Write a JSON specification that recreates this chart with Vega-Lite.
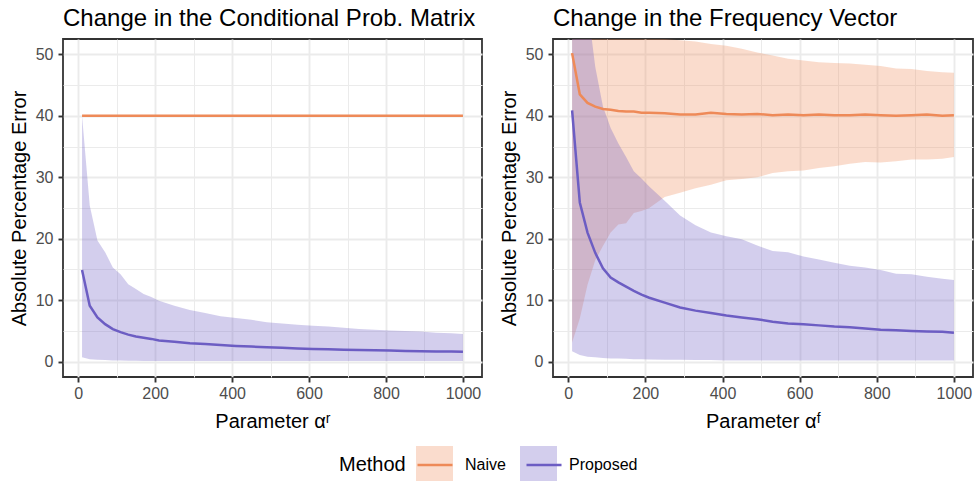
{
  "$schema": "https://vega.github.io/schema/vega-lite/v6.json",
  "padding": {"left": 8, "top": 6, "right": 1, "bottom": 0},
  "spacing": 15,
  "config": {
    "font": "Liberation Sans",
    "view": {"stroke": "#333333", "strokeWidth": 1.8},
    "axis": {"labelFlush": false, "labelOverlap": false}
  },
  "datasets": {
    "cond": [
      {"x": 10, "Method": "Naive", "mean": 40, "lo": 40, "hi": 40},
      {"x": 250, "Method": "Naive", "mean": 40, "lo": 40, "hi": 40},
      {"x": 500, "Method": "Naive", "mean": 40, "lo": 40, "hi": 40},
      {"x": 750, "Method": "Naive", "mean": 40, "lo": 40, "hi": 40},
      {"x": 1000, "Method": "Naive", "mean": 40, "lo": 40, "hi": 40},
      {"x": 10, "Method": "Proposed", "mean": 14.9, "lo": 0.7, "hi": 40},
      {"x": 30, "Method": "Proposed", "mean": 9.1, "lo": 0.4, "hi": 25.4},
      {"x": 50, "Method": "Proposed", "mean": 7.2, "lo": 0.3, "hi": 19.7},
      {"x": 70, "Method": "Proposed", "mean": 6.1, "lo": 0.25, "hi": 17.8},
      {"x": 90, "Method": "Proposed", "mean": 5.3, "lo": 0.2, "hi": 15.3},
      {"x": 110, "Method": "Proposed", "mean": 4.8, "lo": 0.2, "hi": 14.2},
      {"x": 130, "Method": "Proposed", "mean": 4.4, "lo": 0.15, "hi": 12.6},
      {"x": 150, "Method": "Proposed", "mean": 4.1, "lo": 0.15, "hi": 11.8},
      {"x": 170, "Method": "Proposed", "mean": 3.9, "lo": 0.1, "hi": 11.0},
      {"x": 190, "Method": "Proposed", "mean": 3.7, "lo": 0.1, "hi": 10.5},
      {"x": 210, "Method": "Proposed", "mean": 3.45, "lo": 0.1, "hi": 9.9},
      {"x": 250, "Method": "Proposed", "mean": 3.25, "lo": 0.1, "hi": 9.1},
      {"x": 290, "Method": "Proposed", "mean": 3.0, "lo": 0.1, "hi": 8.4},
      {"x": 330, "Method": "Proposed", "mean": 2.85, "lo": 0.1, "hi": 7.9},
      {"x": 370, "Method": "Proposed", "mean": 2.7, "lo": 0.1, "hi": 7.4},
      {"x": 410, "Method": "Proposed", "mean": 2.55, "lo": 0.1, "hi": 7.1},
      {"x": 450, "Method": "Proposed", "mean": 2.45, "lo": 0.1, "hi": 6.8},
      {"x": 490, "Method": "Proposed", "mean": 2.35, "lo": 0.1, "hi": 6.4},
      {"x": 530, "Method": "Proposed", "mean": 2.25, "lo": 0.1, "hi": 6.2},
      {"x": 570, "Method": "Proposed", "mean": 2.15, "lo": 0.1, "hi": 6.0},
      {"x": 610, "Method": "Proposed", "mean": 2.05, "lo": 0.1, "hi": 5.85},
      {"x": 650, "Method": "Proposed", "mean": 2.0, "lo": 0.1, "hi": 5.7},
      {"x": 690, "Method": "Proposed", "mean": 1.95, "lo": 0.1, "hi": 5.5},
      {"x": 730, "Method": "Proposed", "mean": 1.9, "lo": 0.1, "hi": 5.3},
      {"x": 770, "Method": "Proposed", "mean": 1.85, "lo": 0.1, "hi": 5.2},
      {"x": 810, "Method": "Proposed", "mean": 1.8, "lo": 0.1, "hi": 5.05},
      {"x": 850, "Method": "Proposed", "mean": 1.75, "lo": 0.1, "hi": 5.0},
      {"x": 890, "Method": "Proposed", "mean": 1.7, "lo": 0.1, "hi": 4.9},
      {"x": 930, "Method": "Proposed", "mean": 1.65, "lo": 0.1, "hi": 4.7},
      {"x": 970, "Method": "Proposed", "mean": 1.65, "lo": 0.1, "hi": 4.6},
      {"x": 1000, "Method": "Proposed", "mean": 1.6, "lo": 0.1, "hi": 4.5}
    ],
    "freq": [
      {"x": 10, "Method": "Naive", "mean": 50.2, "lo": 3.1, "hi": 90},
      {"x": 30, "Method": "Naive", "mean": 43.5, "lo": 7.0, "hi": 72},
      {"x": 50, "Method": "Naive", "mean": 42.1, "lo": 12.5, "hi": 65},
      {"x": 70, "Method": "Naive", "mean": 41.5, "lo": 16.5, "hi": 61},
      {"x": 90, "Method": "Naive", "mean": 41.1, "lo": 18.8, "hi": 59},
      {"x": 110, "Method": "Naive", "mean": 41.0, "lo": 21.0, "hi": 57.5},
      {"x": 130, "Method": "Naive", "mean": 40.8, "lo": 22.3, "hi": 56.5},
      {"x": 150, "Method": "Naive", "mean": 40.7, "lo": 22.5, "hi": 55.6},
      {"x": 170, "Method": "Naive", "mean": 40.7, "lo": 24.2, "hi": 54.8},
      {"x": 190, "Method": "Naive", "mean": 40.5, "lo": 24.5, "hi": 54.1},
      {"x": 210, "Method": "Naive", "mean": 40.5, "lo": 25.0, "hi": 53.5},
      {"x": 250, "Method": "Naive", "mean": 40.4, "lo": 26.8, "hi": 52.5},
      {"x": 290, "Method": "Naive", "mean": 40.2, "lo": 27.5, "hi": 52.3},
      {"x": 330, "Method": "Naive", "mean": 40.2, "lo": 28.2, "hi": 52.1},
      {"x": 370, "Method": "Naive", "mean": 40.5, "lo": 28.8, "hi": 51.7},
      {"x": 410, "Method": "Naive", "mean": 40.3, "lo": 29.5, "hi": 51.4},
      {"x": 450, "Method": "Naive", "mean": 40.2, "lo": 29.7, "hi": 50.9},
      {"x": 490, "Method": "Naive", "mean": 40.3, "lo": 30.0, "hi": 50.3},
      {"x": 530, "Method": "Naive", "mean": 40.1, "lo": 30.7, "hi": 49.8},
      {"x": 570, "Method": "Naive", "mean": 40.2, "lo": 31.0, "hi": 49.3},
      {"x": 610, "Method": "Naive", "mean": 40.1, "lo": 31.1, "hi": 49.0},
      {"x": 650, "Method": "Naive", "mean": 40.2, "lo": 31.5, "hi": 48.7},
      {"x": 690, "Method": "Naive", "mean": 40.1, "lo": 31.8, "hi": 48.6},
      {"x": 730, "Method": "Naive", "mean": 40.1, "lo": 32.2, "hi": 48.5},
      {"x": 770, "Method": "Naive", "mean": 40.2, "lo": 32.5, "hi": 48.3},
      {"x": 810, "Method": "Naive", "mean": 40.1, "lo": 32.4, "hi": 48.1},
      {"x": 850, "Method": "Naive", "mean": 40.0, "lo": 32.6, "hi": 47.7},
      {"x": 890, "Method": "Naive", "mean": 40.1, "lo": 32.9, "hi": 47.6},
      {"x": 930, "Method": "Naive", "mean": 40.2, "lo": 32.9, "hi": 47.3},
      {"x": 970, "Method": "Naive", "mean": 40.0, "lo": 33.0, "hi": 47.1},
      {"x": 1000, "Method": "Naive", "mean": 40.1, "lo": 33.3, "hi": 47.0},
      {"x": 10, "Method": "Proposed", "mean": 40.9, "lo": 1.7, "hi": 110},
      {"x": 30, "Method": "Proposed", "mean": 25.9, "lo": 1.1, "hi": 80},
      {"x": 50, "Method": "Proposed", "mean": 21.0, "lo": 0.8, "hi": 58},
      {"x": 70, "Method": "Proposed", "mean": 17.7, "lo": 0.7, "hi": 48},
      {"x": 90, "Method": "Proposed", "mean": 15.2, "lo": 0.6, "hi": 41.5},
      {"x": 110, "Method": "Proposed", "mean": 13.7, "lo": 0.5, "hi": 38},
      {"x": 130, "Method": "Proposed", "mean": 12.9, "lo": 0.5, "hi": 35.5},
      {"x": 150, "Method": "Proposed", "mean": 12.2, "lo": 0.45, "hi": 33.3},
      {"x": 170, "Method": "Proposed", "mean": 11.5, "lo": 0.4, "hi": 31},
      {"x": 190, "Method": "Proposed", "mean": 10.9, "lo": 0.4, "hi": 29.8},
      {"x": 210, "Method": "Proposed", "mean": 10.4, "lo": 0.35, "hi": 28.5},
      {"x": 250, "Method": "Proposed", "mean": 9.6, "lo": 0.3, "hi": 26.2},
      {"x": 290, "Method": "Proposed", "mean": 8.8, "lo": 0.3, "hi": 23.8},
      {"x": 330, "Method": "Proposed", "mean": 8.3, "lo": 0.25, "hi": 22.2},
      {"x": 370, "Method": "Proposed", "mean": 7.9, "lo": 0.25, "hi": 21.0},
      {"x": 410, "Method": "Proposed", "mean": 7.5, "lo": 0.2, "hi": 20.4},
      {"x": 450, "Method": "Proposed", "mean": 7.2, "lo": 0.2, "hi": 19.9},
      {"x": 490, "Method": "Proposed", "mean": 6.9, "lo": 0.2, "hi": 18.9},
      {"x": 530, "Method": "Proposed", "mean": 6.5, "lo": 0.2, "hi": 18.0},
      {"x": 570, "Method": "Proposed", "mean": 6.2, "lo": 0.2, "hi": 17.8},
      {"x": 610, "Method": "Proposed", "mean": 6.1, "lo": 0.2, "hi": 17.1},
      {"x": 650, "Method": "Proposed", "mean": 5.9, "lo": 0.2, "hi": 16.6},
      {"x": 690, "Method": "Proposed", "mean": 5.7, "lo": 0.2, "hi": 16.1},
      {"x": 730, "Method": "Proposed", "mean": 5.6, "lo": 0.2, "hi": 15.6},
      {"x": 770, "Method": "Proposed", "mean": 5.4, "lo": 0.2, "hi": 15.3},
      {"x": 810, "Method": "Proposed", "mean": 5.2, "lo": 0.2, "hi": 14.9},
      {"x": 850, "Method": "Proposed", "mean": 5.1, "lo": 0.2, "hi": 14.3},
      {"x": 890, "Method": "Proposed", "mean": 5.0, "lo": 0.2, "hi": 14.2},
      {"x": 930, "Method": "Proposed", "mean": 4.9, "lo": 0.2, "hi": 13.8},
      {"x": 970, "Method": "Proposed", "mean": 4.85, "lo": 0.2, "hi": 13.5},
      {"x": 1000, "Method": "Proposed", "mean": 4.7, "lo": 0.2, "hi": 13.3}
    ]
  },
  "hconcat": [
    {
      "width": 419,
      "height": 338,
      "title": {"text": "Change in the Conditional Prob. Matrix", "anchor": "start", "frame": "group", "fontSize": 24, "fontWeight": "normal", "color": "black", "offset": 8},
      "data": {"name": "cond"},
      "layer": [
        {
          "mark": {"type": "area", "opacity": 0.3, "clip": true},
          "encoding": {
            "x": {"field": "x", "type": "quantitative", "scale": {"domain": [-39.5, 1049.5], "nice": false, "zero": false},
                  "axis": {"orient": "bottom", "title": null, "values": [100, 300, 500, 700, 900], "grid": true, "gridColor": "#EBEBEB", "gridWidth": 1.0, "ticks": false, "labels": false, "domain": false}},
            "y": {"field": "lo", "type": "quantitative", "scale": {"domain": [-2.5, 52.5], "nice": false, "zero": false},
                  "axis": {"orient": "left", "title": null, "values": [5, 15, 25, 35, 45], "grid": true, "gridColor": "#EBEBEB", "gridWidth": 1.0, "ticks": false, "labels": false, "domain": false}},
            "y2": {"field": "hi"},
            "fill": {"field": "Method", "type": "nominal", "scale": {"domain": ["Naive", "Proposed"], "range": ["#EE8A58", "#6C5DC3"]},
                     "legend": {"orient": "none", "legendX": 276, "legendY": 407, "direction": "horizontal", "title": "Method", "titleOrient": "left", "titleAnchor": "middle", "titleBaseline": "middle", "titleFontSize": 20, "titleFontWeight": "normal", "titleColor": "black", "titlePadding": 10, "labelFontSize": 16, "labelColor": "black", "symbolType": "square", "symbolSize": 1369, "symbolStrokeWidth": 0, "symbolOpacity": 0.3, "labelOffset": 12, "columnPadding": 14, "padding": 0}}
          }
        },
        {
          "mark": {"type": "line", "strokeWidth": 2.5, "clip": true},
          "encoding": {
            "x": {"field": "x", "type": "quantitative",
                  "axis": {"orient": "bottom", "format": "d", "title": "Parameter αʳ", "values": [0, 200, 400, 600, 800, 1000], "grid": true, "gridColor": "#EBEBEB", "gridWidth": 1.9, "tickColor": "#333333", "tickWidth": 1.9, "tickSize": 5, "domain": false, "labelFontSize": 16, "labelColor": "#4D4D4D", "labelPadding": 3, "titleFontSize": 20, "titleFontWeight": "normal", "titleColor": "black", "titlePadding": 10}},
            "y": {"field": "mean", "type": "quantitative",
                  "axis": {"orient": "left", "format": "d", "title": "Absolute Percentage Error", "values": [0, 10, 20, 30, 40, 50], "grid": true, "gridColor": "#EBEBEB", "gridWidth": 1.9, "tickColor": "#333333", "tickWidth": 1.9, "tickSize": 5, "domain": false, "labelFontSize": 16, "labelColor": "#4D4D4D", "labelPadding": 5, "titleFontSize": 20, "titleFontWeight": "normal", "titleColor": "black", "titlePadding": 6}},
            "stroke": {"field": "Method", "type": "nominal", "scale": {"range": ["#EE8A58", "#6C5DC3"]},
                       "legend": {"orient": "none", "legendX": 276, "legendY": 407, "direction": "horizontal", "title": "Method", "titleOrient": "left", "titleAnchor": "middle", "titleBaseline": "middle", "titleFontSize": 20, "titleFontWeight": "normal", "titleOpacity": 0, "titlePadding": 10, "labelFontSize": 16, "labelOpacity": 0, "symbolType": "stroke", "symbolSize": 1225, "symbolStrokeWidth": 2.5, "labelOffset": 12, "columnPadding": 14, "padding": 0}}
          }
        }
      ],
      "resolve": {"axis": {"x": "independent", "y": "independent"}}
    },
    {
      "width": 420,
      "height": 338,
      "title": {"text": "Change in the Frequency Vector", "anchor": "start", "frame": "group", "fontSize": 24, "fontWeight": "normal", "color": "black", "offset": 8},
      "data": {"name": "freq"},
      "layer": [
        {
          "mark": {"type": "area", "opacity": 0.3, "clip": true},
          "encoding": {
            "x": {"field": "x", "type": "quantitative", "scale": {"domain": [-39.5, 1049.5], "nice": false, "zero": false},
                  "axis": {"orient": "bottom", "title": null, "values": [100, 300, 500, 700, 900], "grid": true, "gridColor": "#EBEBEB", "gridWidth": 1.0, "ticks": false, "labels": false, "domain": false}},
            "y": {"field": "lo", "type": "quantitative", "scale": {"domain": [-2.5, 52.5], "nice": false, "zero": false},
                  "axis": {"orient": "left", "title": null, "values": [5, 15, 25, 35, 45], "grid": true, "gridColor": "#EBEBEB", "gridWidth": 1.0, "ticks": false, "labels": false, "domain": false}},
            "y2": {"field": "hi"},
            "fill": {"field": "Method", "type": "nominal", "scale": {"domain": ["Naive", "Proposed"], "range": ["#EE8A58", "#6C5DC3"]}}
          }
        },
        {
          "mark": {"type": "line", "strokeWidth": 2.5, "clip": true},
          "encoding": {
            "x": {"field": "x", "type": "quantitative",
                  "axis": {"orient": "bottom", "format": "d", "title": "Parameter αᶠ", "values": [0, 200, 400, 600, 800, 1000], "grid": true, "gridColor": "#EBEBEB", "gridWidth": 1.9, "tickColor": "#333333", "tickWidth": 1.9, "tickSize": 5, "domain": false, "labelFontSize": 16, "labelColor": "#4D4D4D", "labelPadding": 3, "titleFontSize": 20, "titleFontWeight": "normal", "titleColor": "black", "titlePadding": 10}},
            "y": {"field": "mean", "type": "quantitative",
                  "axis": {"orient": "left", "format": "d", "title": "Absolute Percentage Error", "values": [0, 10, 20, 30, 40, 50], "grid": true, "gridColor": "#EBEBEB", "gridWidth": 1.9, "tickColor": "#333333", "tickWidth": 1.9, "tickSize": 5, "domain": false, "labelFontSize": 16, "labelColor": "#4D4D4D", "labelPadding": 5, "titleFontSize": 20, "titleFontWeight": "normal", "titleColor": "black", "titlePadding": 6}},
            "stroke": {"field": "Method", "type": "nominal", "scale": {"range": ["#EE8A58", "#6C5DC3"]}}
          }
        }
      ],
      "resolve": {"axis": {"x": "independent", "y": "independent"}}
    }
  ]
}
